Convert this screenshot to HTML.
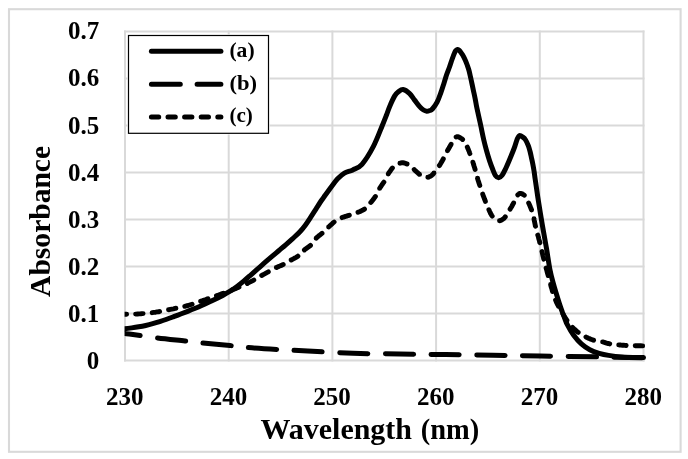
<!DOCTYPE html>
<html><head><meta charset="utf-8"><style>
html,body{margin:0;padding:0;background:#fff;}
body{width:688px;height:459px;overflow:hidden;}
svg{display:block;will-change:transform;font-family:"Liberation Serif",serif;font-weight:bold;}
</style></head><body>
<svg width="688" height="459" viewBox="0 0 688 459">
<rect x="0" y="0" width="688" height="459" fill="#fff"/>
<rect x="9" y="9.2" width="671.6" height="442.6" fill="none" stroke="#d9d9d9" stroke-width="2.1"/>
<g stroke="#d9d9d9" stroke-width="2"><line x1="125.00" y1="30.50" x2="125.00" y2="361.50"/><line x1="228.70" y1="30.50" x2="228.70" y2="361.50"/><line x1="332.40" y1="30.50" x2="332.40" y2="361.50"/><line x1="436.10" y1="30.50" x2="436.10" y2="361.50"/><line x1="539.80" y1="30.50" x2="539.80" y2="361.50"/><line x1="643.50" y1="30.50" x2="643.50" y2="361.50"/><line x1="124.00" y1="360.50" x2="644.50" y2="360.50"/><line x1="124.00" y1="313.50" x2="644.50" y2="313.50"/><line x1="124.00" y1="266.50" x2="644.50" y2="266.50"/><line x1="124.00" y1="219.50" x2="644.50" y2="219.50"/><line x1="124.00" y1="172.50" x2="644.50" y2="172.50"/><line x1="124.00" y1="125.50" x2="644.50" y2="125.50"/><line x1="124.00" y1="78.50" x2="644.50" y2="78.50"/><line x1="124.00" y1="31.50" x2="644.50" y2="31.50"/></g>
<clipPath id="cp"><rect x="124.6" y="20" width="540" height="350"/></clipPath>
<g fill="none" stroke="#000" stroke-linecap="round" stroke-linejoin="round" clip-path="url(#cp)">
<path d="M122.00 333.20 C122.50 333.25 123.17 333.28 125.00 333.50 C126.83 333.72 127.58 333.75 133.00 334.50 C138.42 335.25 148.83 336.92 157.50 338.00 C166.17 339.08 177.50 340.17 185.00 341.00 C192.50 341.83 195.00 342.25 202.50 343.00 C210.00 343.75 222.50 344.75 230.00 345.50 C237.50 346.25 239.58 346.83 247.50 347.50 C255.42 348.17 267.45 348.92 277.50 349.50 C287.55 350.08 295.22 350.37 307.80 351.00 C320.38 351.63 337.63 352.80 353.00 353.30 C368.37 353.80 384.55 353.78 400.00 354.00 C415.45 354.22 430.20 354.40 445.70 354.60 C461.20 354.80 477.28 354.97 493.00 355.20 C508.72 355.43 522.17 355.72 540.00 356.00 C557.83 356.28 582.75 356.62 600.00 356.90 C617.25 357.18 636.25 357.57 643.50 357.70" stroke-width="5" stroke-dasharray="28.2 17.5" stroke-dashoffset="9.8"/>
<path d="M122.0 314.3 L122.0 314.3 L122.1 314.3 L122.2 314.3 L122.3 314.3 L122.4 314.3 L122.5 314.3 L122.7 314.3 L123.1 314.3 L123.5 314.3 L124.1 314.3 L124.9 314.3 L125.9 314.3 L126.6 314.3 M135.6 314.1 L136.0 314.1 L137.6 314.0 L139.2 313.9 L140.8 313.8 L142.4 313.6 L143.1 313.6 M152.2 312.7 L152.2 312.7 L153.9 312.4 L155.6 312.2 L157.3 311.9 L159.0 311.7 L159.6 311.5 M168.5 309.8 L168.6 309.8 L170.3 309.4 L171.9 309.1 L173.5 308.8 L175.1 308.4 L175.9 308.3 M184.8 306.3 L184.8 306.3 L186.4 305.9 L188.0 305.5 L189.6 305.0 L191.2 304.5 L192.1 304.2 M200.7 301.3 L201.1 301.1 L202.7 300.6 L204.3 300.0 L205.9 299.5 L207.5 298.9 L207.9 298.7 M216.5 295.8 L216.9 295.6 L218.4 295.1 L220.0 294.5 L221.6 293.9 L223.2 293.3 L223.5 293.2 M232.1 290.0 L232.2 289.9 L233.8 289.3 L235.3 288.7 L236.8 288.0 L238.3 287.4 L239.0 287.1 M247.3 283.4 L247.4 283.3 L248.8 282.6 L250.3 281.9 L251.8 281.1 L253.3 280.3 L253.8 280.0 M261.7 275.5 L261.9 275.4 L263.2 274.6 L264.6 273.9 L265.9 273.2 L267.1 272.5 L268.3 271.8 L268.3 271.8 M276.3 267.5 L276.5 267.5 L277.4 267.0 L278.2 266.7 L279.0 266.3 L279.8 266.0 L280.5 265.7 L281.2 265.4 L282.0 265.1 L282.7 264.7 L283.2 264.5 M291.2 260.0 L291.2 260.0 L291.9 259.6 L292.7 259.2 L293.4 258.8 L294.2 258.4 L294.9 258.0 L295.7 257.6 L296.4 257.2 L297.1 256.7 L297.8 256.3 L297.9 256.2 M304.4 249.9 L304.5 249.8 L305.2 249.3 L305.9 248.8 L306.6 248.3 L307.3 247.8 L308.0 247.3 L308.7 246.8 L309.4 246.3 L310.1 245.8 L310.5 245.4 M316.1 238.3 L316.2 238.3 L316.7 237.7 L317.3 237.1 L317.9 236.6 L318.5 236.1 L319.2 235.6 L319.8 235.1 L320.4 234.6 L321.0 234.1 L321.6 233.6 L322.0 233.3 M328.6 227.0 L328.7 227.0 L329.3 226.3 L330.0 225.7 L330.7 225.1 L331.4 224.4 L332.1 223.8 L332.7 223.2 L333.4 222.6 L334.1 222.0 L334.1 222.0 M342.1 217.6 L342.1 217.6 L342.8 217.3 L343.6 217.0 L344.4 216.8 L345.1 216.5 L345.9 216.3 L346.7 216.0 L347.5 215.8 L348.3 215.5 L349.1 215.3 L349.3 215.2 M358.0 212.3 L358.0 212.3 L358.7 212.0 L359.5 211.7 L360.3 211.4 L361.0 211.0 L361.8 210.6 L362.5 210.3 L363.2 209.9 L363.9 209.5 L364.5 209.1 M370.8 202.5 L370.8 202.5 L371.4 201.8 L372.0 201.0 L372.6 200.3 L373.2 199.5 L373.8 198.7 L374.4 197.9 L374.9 197.1 L375.4 196.5 M379.6 188.4 L379.6 188.3 L380.1 187.6 L380.6 186.9 L381.1 186.1 L381.6 185.4 L382.1 184.7 L382.6 183.9 L383.1 183.2 L383.6 182.5 L383.9 182.1 M388.2 174.1 L388.2 173.9 L388.7 173.2 L389.2 172.4 L389.7 171.7 L390.3 170.9 L390.8 170.1 L391.3 169.4 L391.9 168.7 L392.3 168.1 L392.4 168.0 M399.9 163.2 L400.0 163.2 L400.3 163.1 L400.6 163.0 L401.0 162.9 L401.3 162.8 L401.6 162.7 L401.9 162.7 L402.3 162.7 L402.6 162.7 L403.0 162.7 L403.4 162.8 L403.9 162.9 L404.3 163.0 L404.8 163.2 L405.3 163.3 L405.8 163.5 L406.2 163.7 L406.7 163.9 L407.1 164.0 M414.2 169.6 L414.3 169.7 L414.9 170.3 L415.5 170.8 L416.2 171.4 L416.9 172.1 L417.6 172.7 L418.3 173.3 L418.9 173.8 L419.5 174.4 L419.6 174.4 M427.8 177.3 L427.9 177.3 L428.4 177.2 L428.8 177.0 L429.2 176.8 L429.7 176.6 L430.2 176.4 L430.6 176.1 L431.1 175.8 L431.5 175.5 L432.0 175.1 L432.5 174.7 L433.0 174.2 L433.5 173.6 L434.0 173.0 L434.0 172.9 M439.4 165.6 L439.5 165.5 L439.9 164.8 L440.3 164.1 L440.8 163.3 L441.3 162.4 L441.8 161.6 L442.3 160.7 L442.8 159.9 L443.2 159.1 L443.3 158.9 M447.4 150.8 L447.4 150.7 L447.9 149.9 L448.4 149.1 L448.9 148.2 L449.4 147.4 L449.9 146.5 L450.3 145.7 L450.8 145.0 L451.1 144.3 M456.1 137.0 L456.1 137.0 L456.4 136.9 L456.6 136.8 L456.8 136.7 L457.1 136.6 L457.3 136.6 L457.6 136.6 L457.8 136.6 L458.1 136.7 L458.4 136.8 L458.7 137.0 L459.0 137.1 L459.2 137.3 L459.5 137.4 L459.8 137.6 L460.1 137.8 L460.4 137.9 L460.6 138.1 L460.9 138.2 L461.2 138.4 L461.4 138.6 L461.7 138.7 L462.0 138.9 L462.2 139.1 L462.5 139.3 L462.6 139.4 M467.3 147.1 L467.4 147.3 L467.7 147.9 L467.9 148.6 L468.2 149.2 L468.5 149.9 L468.8 150.7 L469.1 151.4 L469.4 152.1 L469.6 152.9 L469.9 153.6 M472.9 162.2 L472.9 162.2 L473.1 162.9 L473.3 163.6 L473.5 164.3 L473.8 165.1 L474.0 165.9 L474.3 166.8 L474.6 167.7 L474.9 168.8 L475.1 169.4 M477.5 178.2 L477.5 178.3 L477.9 179.7 L478.4 181.2 L478.8 182.6 L479.3 184.1 L479.8 185.5 M482.7 194.1 L482.8 194.5 L483.4 196.1 L484.0 197.7 L484.6 199.3 L485.3 201.0 L485.4 201.4 M488.9 209.8 L488.9 209.8 L489.6 211.3 L490.2 212.5 L490.7 213.7 L491.3 214.6 L491.7 215.4 L492.2 216.1 M499.5 220.8 L499.6 220.8 L500.1 220.7 L500.6 220.5 L501.1 220.3 L501.6 220.0 L502.1 219.7 L502.6 219.4 L503.1 219.0 L503.6 218.7 L504.0 218.3 L504.4 217.9 L504.7 217.5 L505.1 217.1 L505.3 216.8 M510.1 209.1 L510.1 209.1 L510.6 208.3 L511.1 207.5 L511.6 206.7 L512.0 206.0 L512.4 205.2 L512.8 204.5 L513.2 203.7 L513.6 203.0 M517.8 194.9 L517.8 194.9 L518.1 194.7 L518.3 194.4 L518.5 194.2 L518.8 194.0 L519.1 193.8 L519.3 193.6 L519.6 193.5 L519.9 193.4 L520.1 193.4 L520.4 193.4 L520.7 193.4 L521.0 193.5 L521.3 193.5 L521.7 193.7 L522.0 193.8 L522.3 193.9 L522.6 194.1 L522.9 194.2 L523.1 194.4 L523.4 194.5 L523.7 194.7 L523.9 194.9 L524.2 195.0 L524.3 195.2 M528.7 203.1 L528.8 203.2 L529.0 203.8 L529.3 204.4 L529.6 205.0 L529.8 205.6 L530.1 206.2 L530.3 206.9 L530.6 207.5 L530.8 208.1 L531.1 208.7 L531.3 209.3 L531.6 209.9 L531.6 210.0 M534.0 218.7 L534.0 218.8 L534.2 220.2 L534.5 221.6 L534.8 223.0 L535.1 224.4 L535.3 225.7 L535.5 226.3 M537.8 235.1 L537.9 235.3 L538.2 236.4 L538.5 237.4 L538.7 238.5 L539.0 239.4 L539.2 240.2 L539.4 240.9 L539.6 241.6 L539.7 242.3 L539.9 242.7 M542.0 251.6 L542.1 251.9 L542.5 253.7 L542.9 255.6 L543.4 257.4 L543.8 259.2 M546.1 268.0 L546.1 268.0 L546.5 269.4 L546.9 270.8 L547.2 272.1 L547.6 273.5 L548.0 274.8 L548.2 275.6 M550.6 284.4 L550.6 284.5 L551.0 286.1 L551.4 287.6 L551.9 289.1 L552.3 290.6 L552.5 291.6 M555.6 300.1 L555.7 300.3 L556.1 301.3 L556.5 302.3 L557.0 303.3 L557.4 304.2 L557.9 305.1 L558.3 306.0 L558.4 306.3 M563.0 314.1 L563.1 314.2 L563.5 315.0 L564.0 315.8 L564.5 316.6 L564.9 317.3 L565.4 318.0 L565.8 318.7 L566.2 319.4 L566.6 319.9 L566.9 320.3 M572.6 327.4 L572.6 327.4 L573.1 327.9 L573.6 328.4 L574.1 328.9 L574.7 329.5 L575.3 330.0 L576.0 330.6 L576.6 331.2 L577.3 331.7 L578.0 332.3 L578.2 332.4 M586.0 337.0 L586.1 337.1 L586.9 337.5 L587.6 337.8 L588.4 338.2 L589.2 338.5 L590.0 338.9 L590.8 339.2 L591.6 339.5 L592.4 339.8 L593.2 340.1 L593.6 340.2 M602.6 341.9 L602.7 341.9 L603.5 342.1 L604.3 342.3 L605.1 342.6 L605.8 342.8 L606.6 343.1 L607.4 343.3 L608.2 343.5 L609.0 343.7 L609.7 343.9 M618.7 344.9 L618.8 344.9 L619.6 345.0 L620.4 345.0 L621.1 345.1 L621.7 345.2 L622.4 345.2 L623.1 345.3 L623.9 345.3 L624.7 345.4 L625.7 345.4 L626.1 345.5 M635.2 345.7 L635.3 345.7 L637.3 345.8 L639.1 345.8 L640.8 345.8 L642.2 345.9 L642.7 345.9" stroke-width="4.9"/>
<path d="M122.00 328.80 C122.45 328.78 123.08 328.86 124.70 328.70 C126.32 328.54 129.37 328.18 131.70 327.86 C134.03 327.55 136.37 327.21 138.70 326.81 C141.03 326.41 143.37 325.96 145.70 325.44 C148.03 324.92 150.37 324.34 152.70 323.71 C155.03 323.07 157.37 322.37 159.70 321.63 C162.03 320.89 164.37 320.08 166.70 319.25 C169.03 318.42 171.37 317.54 173.70 316.67 C176.03 315.80 178.37 314.90 180.70 314.01 C183.03 313.12 185.37 312.23 187.70 311.31 C190.03 310.39 192.37 309.47 194.70 308.50 C197.03 307.53 199.37 306.54 201.70 305.51 C204.03 304.48 206.37 303.41 208.70 302.32 C211.03 301.23 213.37 300.12 215.70 298.97 C218.03 297.82 220.37 296.69 222.70 295.43 C225.03 294.18 227.37 292.90 229.70 291.44 C232.03 289.98 234.37 288.41 236.70 286.69 C239.03 284.97 241.37 283.06 243.70 281.13 C246.03 279.19 248.37 277.12 250.70 275.08 C253.03 273.03 255.37 270.93 257.70 268.86 C260.03 266.80 262.37 264.73 264.70 262.69 C267.03 260.65 269.37 258.64 271.70 256.65 C274.03 254.66 276.37 252.71 278.70 250.73 C281.03 248.75 283.37 246.82 285.70 244.79 C288.03 242.76 290.37 240.69 292.70 238.56 C295.03 236.43 297.57 234.27 299.70 231.99 C301.83 229.71 303.63 227.42 305.50 224.90 C307.37 222.38 309.08 219.67 310.90 216.90 C312.72 214.13 314.58 211.12 316.40 208.30 C318.22 205.48 320.40 202.08 321.80 200.00 C323.20 197.92 323.60 197.47 324.80 195.80 C326.00 194.13 327.83 191.60 329.00 190.00 C330.17 188.40 330.37 188.07 331.80 186.20 C333.23 184.33 335.50 180.98 337.60 178.80 C339.70 176.62 341.87 174.58 344.40 173.10 C346.93 171.62 349.87 171.37 352.80 169.90 C355.73 168.43 358.57 168.22 362.00 164.30 C365.43 160.38 370.02 152.87 373.40 146.40 C376.78 139.93 380.12 130.73 382.30 125.50 C384.48 120.27 385.27 118.18 386.50 115.00 C387.73 111.82 388.33 109.58 389.70 106.40 C391.07 103.22 393.23 98.35 394.70 95.90 C396.17 93.45 397.10 92.77 398.50 91.70 C399.90 90.63 401.28 89.23 403.10 89.50 C404.92 89.77 407.48 91.53 409.40 93.30 C411.32 95.07 412.85 97.83 414.60 100.10 C416.35 102.37 418.42 105.25 419.90 106.90 C421.38 108.55 422.37 109.28 423.50 110.00 C424.63 110.72 425.65 111.12 426.70 111.20 C427.75 111.28 428.85 110.87 429.80 110.50 C430.75 110.13 431.18 110.38 432.40 109.00 C433.62 107.62 435.70 104.90 437.10 102.20 C438.50 99.50 439.67 95.93 440.80 92.80 C441.93 89.67 442.95 86.37 443.90 83.40 C444.85 80.43 445.57 77.73 446.50 75.00 C447.43 72.27 448.55 69.67 449.50 67.00 C450.45 64.33 451.30 61.50 452.20 59.00 C453.10 56.50 454.23 53.47 454.90 52.00 C455.57 50.53 455.78 50.62 456.20 50.20 C456.62 49.78 456.97 49.53 457.40 49.50 C457.83 49.47 458.32 49.65 458.80 50.00 C459.28 50.35 459.65 50.77 460.30 51.60 C460.95 52.43 461.88 53.60 462.70 55.00 C463.52 56.40 464.45 58.33 465.20 60.00 C465.95 61.67 466.57 63.25 467.20 65.00 C467.83 66.75 468.38 68.20 469.00 70.50 C469.62 72.80 470.13 75.32 470.90 78.80 C471.67 82.28 472.85 87.87 473.60 91.40 C474.35 94.93 474.85 97.23 475.40 100.00 C475.95 102.77 476.02 103.78 476.90 108.00 C477.78 112.22 479.55 119.97 480.70 125.30 C481.85 130.63 482.83 135.80 483.80 140.00 C484.77 144.20 485.53 147.02 486.50 150.50 C487.47 153.98 488.57 157.77 489.60 160.90 C490.63 164.03 491.72 166.85 492.70 169.30 C493.68 171.75 494.50 174.18 495.50 175.60 C496.50 177.02 497.60 177.85 498.70 177.80 C499.80 177.75 501.00 176.72 502.10 175.30 C503.20 173.88 504.15 171.70 505.30 169.30 C506.45 166.90 507.67 164.03 509.00 160.90 C510.33 157.77 512.30 153.00 513.30 150.50 C514.30 148.00 514.37 147.77 515.00 145.90 C515.63 144.03 516.52 140.83 517.10 139.30 C517.68 137.77 518.10 137.32 518.50 136.70 C518.90 136.08 519.12 135.73 519.50 135.60 C519.88 135.47 520.28 135.67 520.80 135.90 C521.32 136.13 521.85 136.40 522.60 137.00 C523.35 137.60 524.33 138.02 525.30 139.50 C526.27 140.98 527.57 143.73 528.40 145.90 C529.23 148.07 529.80 150.57 530.30 152.50 C530.80 154.43 531.00 155.67 531.40 157.50 C531.80 159.33 532.25 161.18 532.70 163.50 C533.15 165.82 533.67 168.65 534.10 171.40 C534.53 174.15 534.58 175.08 535.30 180.00 C536.02 184.92 537.20 193.23 538.40 200.90 C539.60 208.57 541.15 218.07 542.50 226.00 C543.85 233.93 545.25 241.17 546.50 248.50 C547.75 255.83 548.85 264.12 550.00 270.00 C551.15 275.88 552.37 279.87 553.40 283.75 C554.43 287.63 555.13 289.78 556.20 293.30 C557.27 296.82 558.78 301.78 559.80 304.90 C560.82 308.02 561.50 309.82 562.30 312.00 C563.10 314.18 563.77 315.90 564.60 318.00 C565.43 320.10 565.82 321.77 567.30 324.60 C568.78 327.43 571.15 331.78 573.50 335.00 C575.85 338.22 578.68 341.45 581.40 343.90 C584.12 346.35 586.83 348.13 589.80 349.70 C592.77 351.27 596.07 352.35 599.20 353.30 C602.33 354.25 604.80 354.80 608.60 355.40 C612.40 356.00 616.18 356.53 622.00 356.90 C627.82 357.27 639.92 357.48 643.50 357.60" stroke-width="5"/>
</g>
<rect x="127.3" y="34.3" width="142.4" height="100.2" fill="#fff"/>
<rect x="128.5" y="35.5" width="140" height="97.8" fill="#fff" stroke="#000" stroke-width="1.2"/>
<g fill="none" stroke="#000" stroke-linecap="round" stroke-width="5">
<line x1="151.4" y1="51.3" x2="220.9" y2="51.3"/>
<line x1="151.4" y1="84.2" x2="220.9" y2="84.2" stroke-dasharray="28.9 16.8"/>
<line x1="151.4" y1="117" x2="220.9" y2="117" stroke-dasharray="7.3 9.3"/>
</g>
<g font-size="21px" fill="#000">
<text x="229.4" y="56.6" textLength="25.2" lengthAdjust="spacingAndGlyphs">(a)</text>
<text x="229.4" y="89.8" textLength="27.6" lengthAdjust="spacingAndGlyphs">(b)</text>
<text x="229.4" y="122.4" textLength="23.4" lengthAdjust="spacingAndGlyphs">(c)</text>
</g>
<g font-size="25px" fill="#000"><text x="99.2" y="369.32" text-anchor="end">0</text><text x="99.2" y="322.16" text-anchor="end">0.1</text><text x="99.2" y="275.00" text-anchor="end">0.2</text><text x="99.2" y="227.84" text-anchor="end">0.3</text><text x="99.2" y="180.68" text-anchor="end">0.4</text><text x="99.2" y="133.52" text-anchor="end">0.5</text><text x="99.2" y="86.36" text-anchor="end">0.6</text><text x="99.2" y="39.20" text-anchor="end">0.7</text><text x="124.70" y="405.3" text-anchor="middle">230</text><text x="228.40" y="405.3" text-anchor="middle">240</text><text x="332.10" y="405.3" text-anchor="middle">250</text><text x="435.80" y="405.3" text-anchor="middle">260</text><text x="539.50" y="405.3" text-anchor="middle">270</text><text x="643.20" y="405.3" text-anchor="middle">280</text></g>
<text x="260.5" y="439.1" font-size="29px" textLength="151.5" lengthAdjust="spacingAndGlyphs">Wavelength</text>
<text x="420.7" y="439.1" font-size="29px" textLength="58.5" lengthAdjust="spacingAndGlyphs">(nm)</text>
<text transform="translate(50.1,296.9) rotate(-90)" font-size="29.6px" textLength="151" lengthAdjust="spacingAndGlyphs">Absorbance</text>
</svg>
</body></html>
